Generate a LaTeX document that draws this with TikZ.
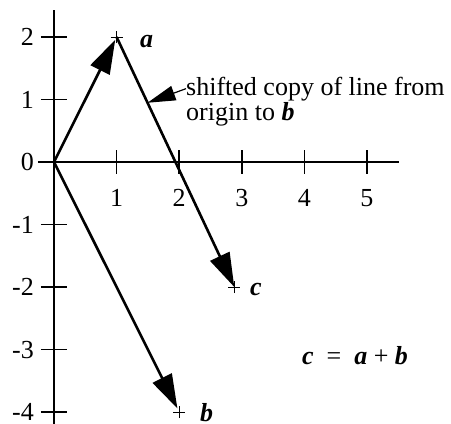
\documentclass[tikz,border=0pt]{standalone}
\usepackage{fontspec}
\setmainfont{Liberation Serif}
\usetikzlibrary{arrows.meta}
\begin{document}
\begin{tikzpicture}[x=62.6pt,y=62.5pt,
  axis/.style={line width=1.6pt},
  vec/.style={line width=2.6pt,-{Triangle[length=34pt,width=21pt]}},
  lead/.style={line width=1.2pt,-{Triangle[length=28pt,width=15pt]}},
  lab/.style={inner sep=0pt,font=\fontsize{26}{25}\selectfont},
  ptlab/.style={inner sep=0pt,anchor=base west,font=\fontsize{26}{25}\selectfont\bfseries\itshape},
  cross/.style={line width=0.9pt}]
\useasboundingbox (-0.8626,-4.192) rectangle (6.342,2.592);
\coordinate (O) at (0,0);
\coordinate (a) at (1,2);
\coordinate (b) at (2,-4);
\coordinate (c) at (2.88,-2);
\coordinate (ytop) at (0,2.432);
\coordinate (ybot) at (0,-4.25);
\coordinate (xl) at (-0.256,0);
\coordinate (xr) at (5.51,0);
% axes
\draw[axis] (ybot) -- (ytop);
\draw[axis] (xl) -- (xr);
\foreach \y in {-4,-3,-2,-1,1,2} {
  \draw[axis] (-0.208,\y) -- (0.208,\y);
}
\foreach \y in {-4,...,2} {
  \node[lab,anchor=base east] (ylab\y) at (-0.32,\y-0.138) {\y};
}
\foreach \x in {1,...,5} {
  \draw[axis] (\x,-0.19) -- (\x,0.19);
  \node[lab,anchor=base] (xlab\x) at (\x,-0.704) {\x};
}
% point marks
\foreach \p in {a,b,c} {
  \draw[cross] ([xshift=-6pt]\p) -- ([xshift=6pt]\p) ([yshift=-6pt]\p) -- ([yshift=6pt]\p);
}
% vectors
\draw[vec,shorten >=3pt] (O) -- (a);
\draw[vec] (a) -- (c);
\draw[vec,shorten >=4pt] (O) -- (b);
% point labels
\node[ptlab] (la) at (1.374,1.84) {a};
\node[ptlab] (lc) at (3.13,-2.128) {c};
\node[ptlab] (lb) at (2.33,-4.15) {b};
% annotation
\node[lab,anchor=base west] (n1) at (2.109,1.072) {shifted copy of line from};
\node[lab,anchor=base west] (n2) at (2.109,0.672) {origin to \textbf{\textit{b}}};
\path (a) -- coordinate[pos=0.263] (p) (c);
\draw[lead] (n1.west) -- (p);
% equation
\node[lab,anchor=base west] (eq) at (3.96,-3.232) {\textbf{\textit{c}}\ \ =\ \ \textbf{\textit{a}} + \textbf{\textit{b}}};
\end{tikzpicture}
\end{document}
